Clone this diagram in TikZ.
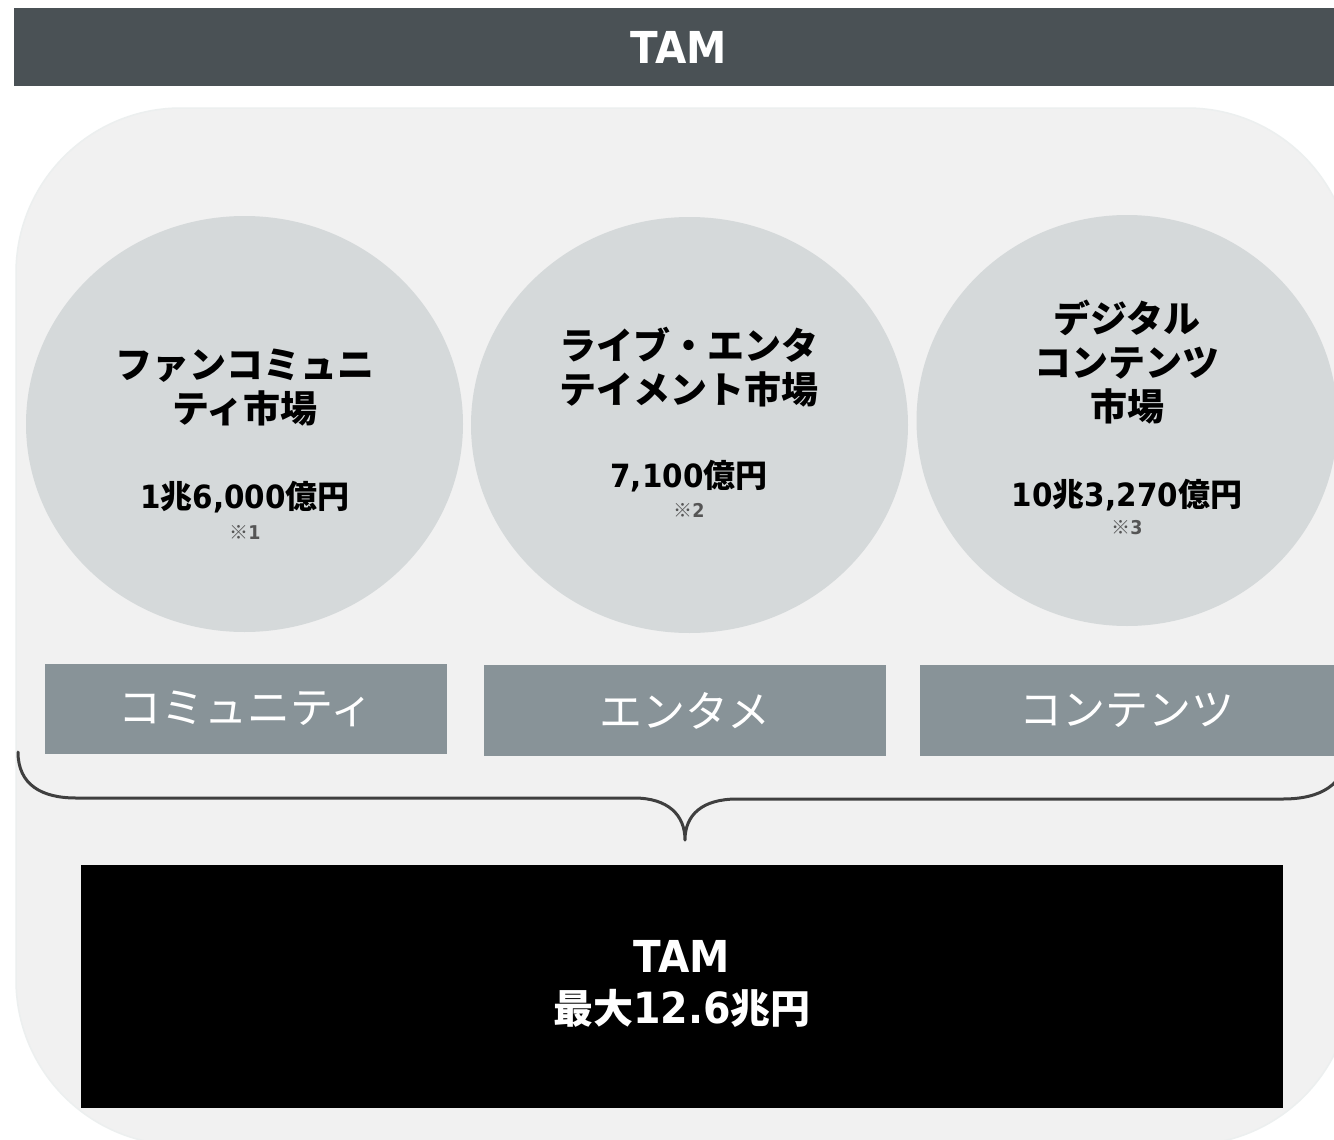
\documentclass[tikz,border=0pt]{standalone}
\usepackage{fontspec}
\usetikzlibrary{shapes.geometric}
\setmainfont{DejaVu Sans}
\newfontfamily\jpf{Noto Sans CJK JP}
\newfontfamily\vdf[FakeStretch=0.92]{DejaVu Sans}
\newcommand\dgt[1]{{\vdf\bfseries #1}}
\definecolor{barc}{HTML}{4A5155}
\definecolor{bgc}{HTML}{F1F1F1}
\definecolor{bgedge}{HTML}{ECEFEF}
\definecolor{circc}{HTML}{D5D9DA}
\definecolor{boxc}{HTML}{889398}
\definecolor{bracec}{HTML}{3F3F3F}
\definecolor{notec}{HTML}{555555}
\tikzset{
  topbar/.style={fill=barc, inner sep=0pt, text=white, font=\vdf\bfseries\fontsize{44}{48}\selectfont},
  circ/.style={ellipse, fill=circc, inner sep=0pt},
  ctitle/.style={align=center, inner sep=0pt, font=\jpf\bfseries\fontsize{37}{44}\selectfont},
  cnum/.style={inner sep=0pt, font=\jpf\bfseries\fontsize{32}{36}\selectfont},
  cnote/.style={inner sep=0pt, text=notec, font=\jpf\bfseries\fontsize{19}{22}\selectfont},
  catbox/.style={fill=boxc, inner sep=0pt, text=white, font=\jpf\fontsize{43}{48}\selectfont},
  brace/.style={draw=bracec, line width=3pt, line cap=round, line join=round},
  totalbox/.style={fill=black, inner sep=0pt},
  totaltext/.style={inner sep=0pt, text=white, align=center, font=\jpf\bfseries\fontsize{40}{51}\selectfont}
}
\begin{document}
\begin{tikzpicture}[x=1pt,y=-1pt]
\useasboundingbox (0,0) rectangle (1334,1140);
\clip (0,0) rectangle (1334,1140);
\fill[white] (0,0) rectangle (1334,1140);
% top bar
\node[topbar, minimum width=1330pt, minimum height=78pt] (bar) at (679,47) {TAM};
% background panel
\draw[fill=bgc, draw=bgedge, line width=1.5pt, rounded corners=165pt] (16,108) rectangle (1352,1145);
% circles
\node[circ, minimum width=437pt, minimum height=416pt] (c1) at (244.5,424) {};
\node[circ, minimum width=437pt, minimum height=416pt] (c2) at (689.5,425) {};
\node[circ, minimum width=421pt, minimum height=411pt] (c3) at (1127,420.5) {};
% circle texts
\node[ctitle] (t1) at (245,388) {ファンコミュニ\\ティ市場};
\node[ctitle] (t2) at (689,367) {ライブ・エンタ\\テイメント市場};
\node[ctitle] (t3) at (1127,362) {デジタル\\コンテンツ\\市場};
\node[cnum] (n1) at (245,497) {\dgt{1}兆\dgt{6,000}億円};
\node[cnum] (n2) at (689,476) {\dgt{7,100}億円};
\node[cnum] (n3) at (1127,495) {\dgt{10}兆\dgt{3,270}億円};
\node[cnote] (m1) at (245,532) {※\dgt{1}};
\node[cnote] (m2) at (689,510) {※\dgt{2}};
\node[cnote] (m3) at (1127,528) {※\dgt{3}};
% category boxes
\node[catbox, minimum width=402pt, minimum height=90pt] (b1) at (246,709) {コミュニティ};
\node[catbox, minimum width=402pt, minimum height=91pt] (b2) at (685,710.5) {エンタメ};
\node[catbox, minimum width=414pt, minimum height=91pt] (b3) at (1127,710.5) {コンテンツ};
% brace
\coordinate (bl) at (18,752);
\coordinate (tip) at (685,840);
\coordinate (br) at (1346,752);
\draw[brace] (bl) .. controls (18,785) and (42,798) .. (76,798) -- (634,798)
  .. controls (668,798) and (685,815) .. (tip)
  .. controls (685,815) and (702,799) .. (737,799) -- (1283,799)
  .. controls (1320,799) and (1346,785) .. (br);
% total box
\node[totalbox, minimum width=1202pt, minimum height=243pt] (tot) at (682,986.5) {};
\node[totaltext] (tott) at (tot.center) [yshift=3pt] {\dgt{\fontsize{44}{51}\selectfont TAM}\\最大\dgt{\fontsize{43}{51}\selectfont 12.6}兆円};
\end{tikzpicture}
\end{document}
